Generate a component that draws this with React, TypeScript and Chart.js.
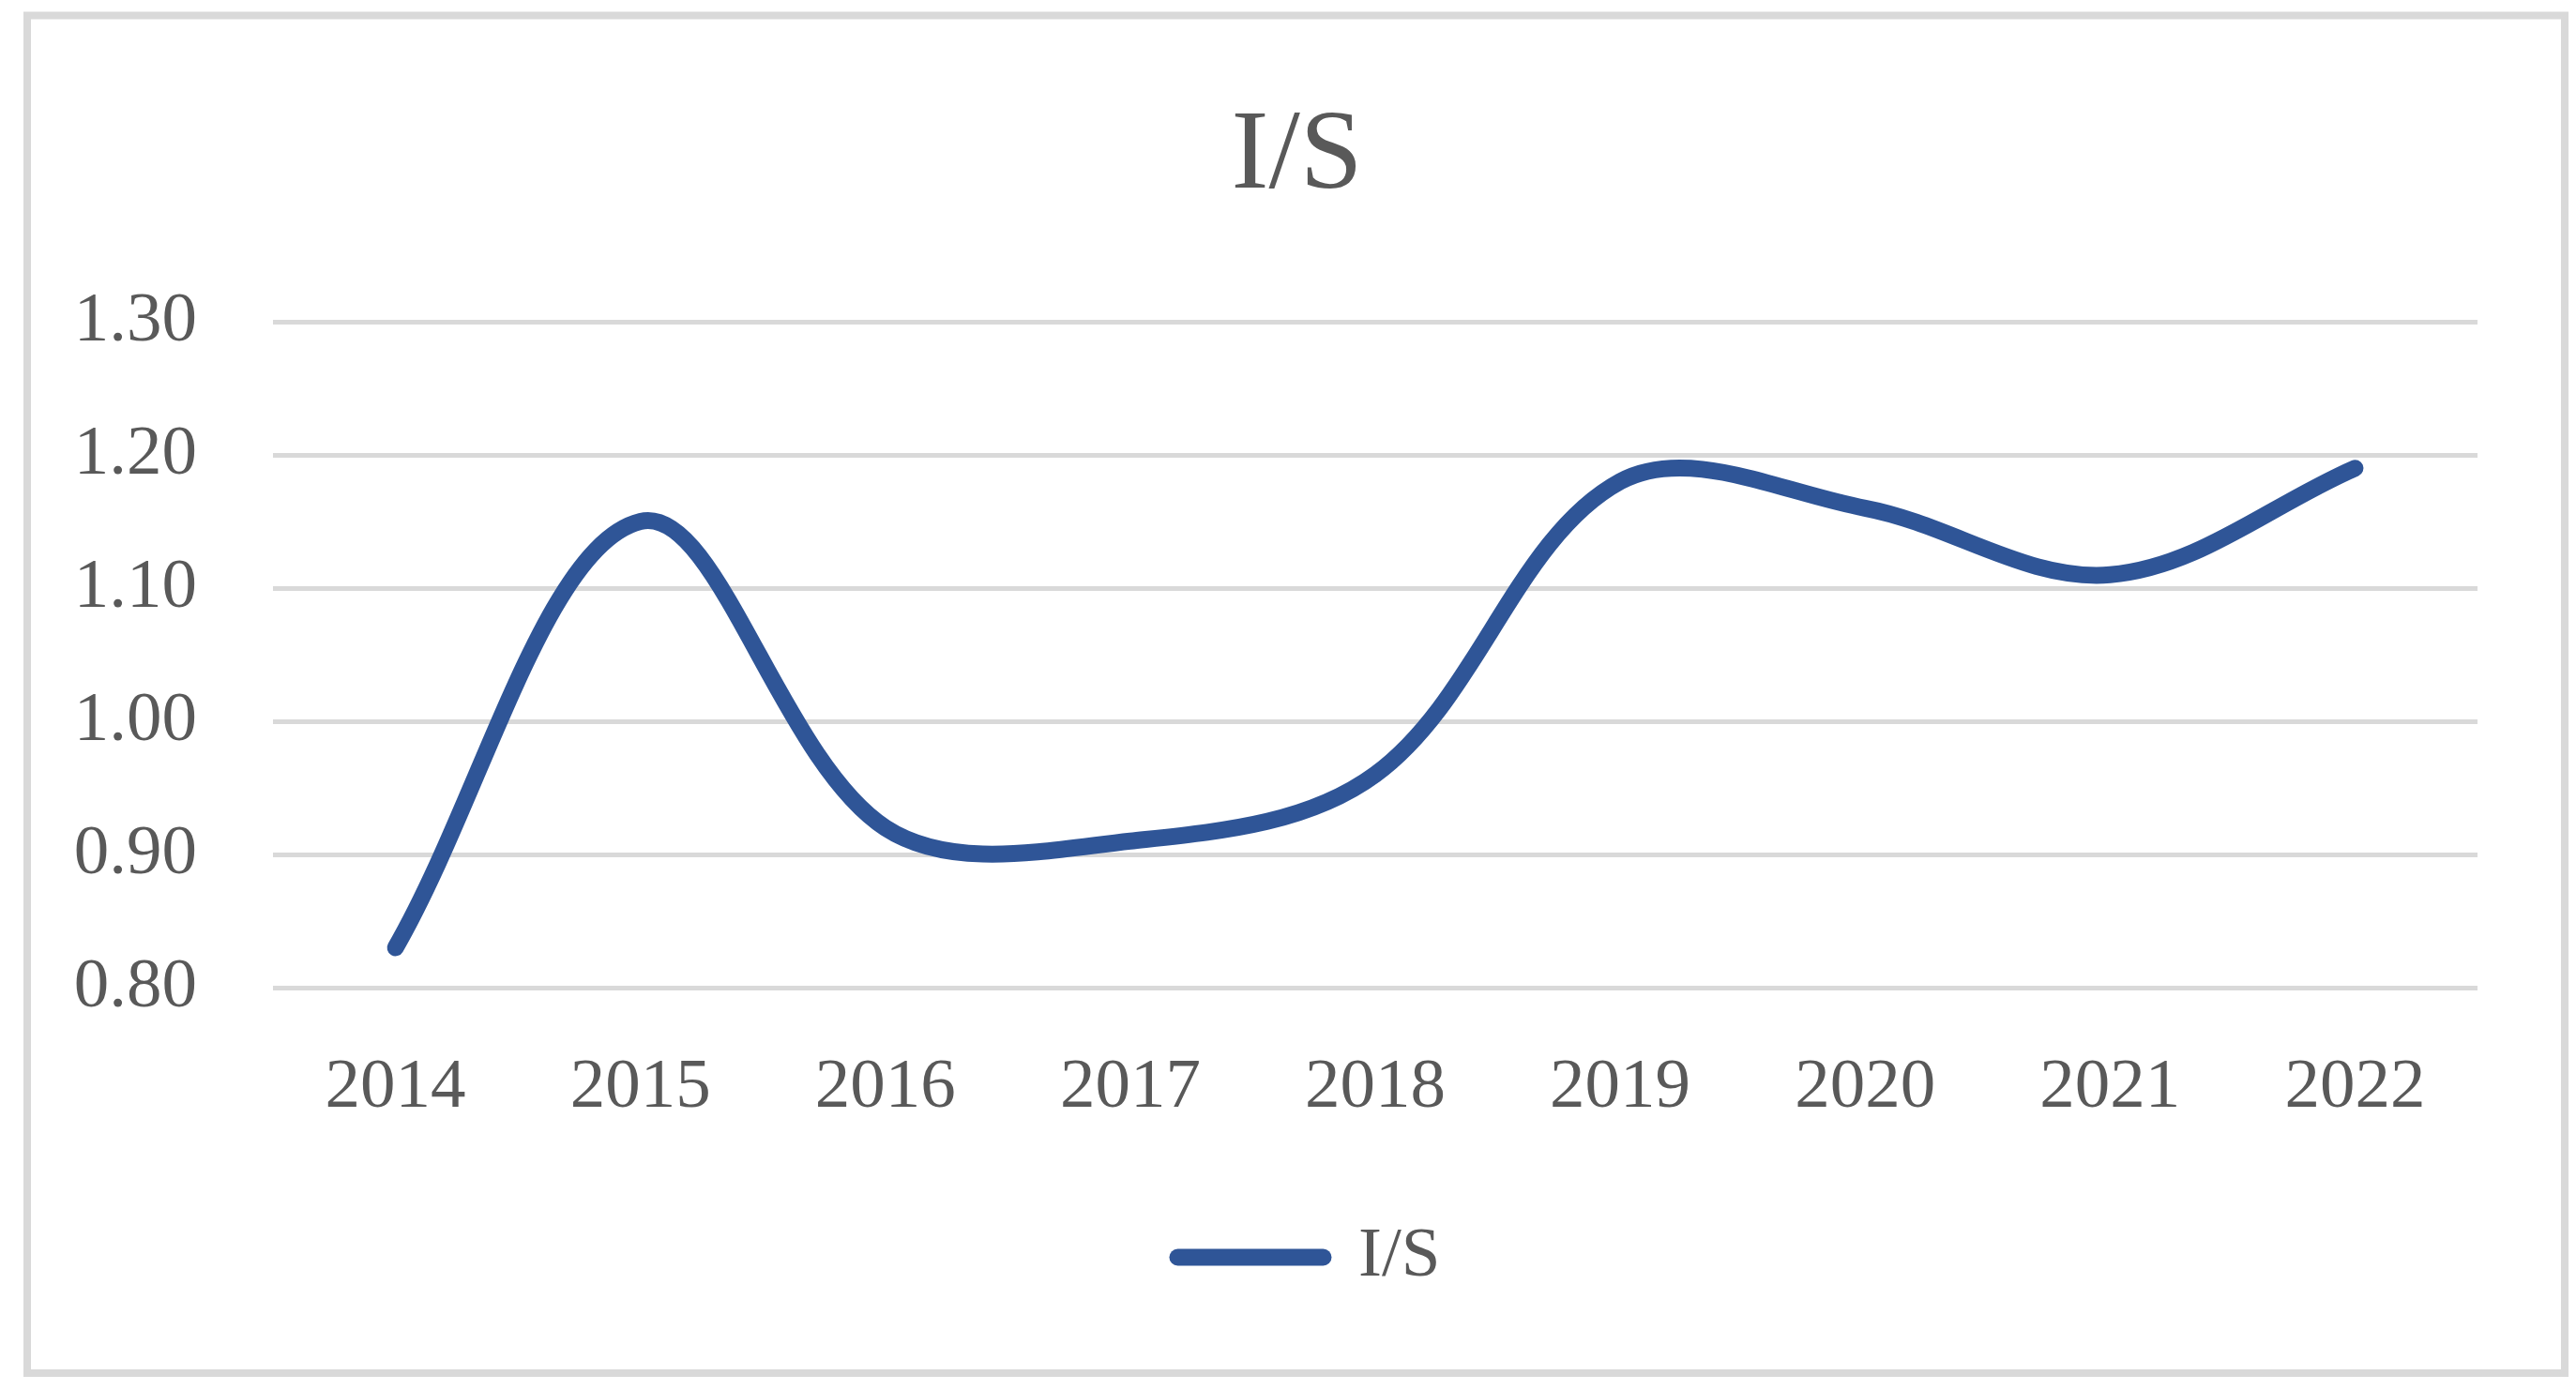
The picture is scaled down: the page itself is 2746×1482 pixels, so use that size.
import React, { useEffect, useRef } from "react";
import { Chart, registerables } from "chart.js";

Chart.register(...registerables);

// ---- data ----
const categories = ["2014", "2015", "2016", "2017", "2018", "2019", "2020", "2021", "2022"];
const isValues = [0.83, 1.15, 0.92, 0.91, 0.96, 1.18, 1.16, 1.11, 1.19];
const yTickValues = [0.8, 0.9, 1.0, 1.1, 1.2, 1.3];
const seriesName = "I/S";
const chartTitle = "I/S";

// ---- style ----
const W = 2746;
const H = 1482;
const FONT = "'Liberation Serif', 'Times New Roman', serif";
const TEXT = "#595959";
const LINE = "#2F5597";
const GRID = "#D9D9D9";
const LINE_W = 18;
const TITLE_DX = 32;
const LEGEND_DX = 45;

const framePlugin = {
  id: "frame",
  beforeDraw(chart: any) {
    const ctx = chart.ctx;
    ctx.save();
    ctx.fillStyle = "#ffffff";
    ctx.fillRect(0, 0, chart.width, chart.height);
    ctx.strokeStyle = GRID;
    ctx.lineWidth = 8;
    ctx.strokeRect(29, 16.5, 2705, 1447.5);
    ctx.restore();
  },
};

const shiftBox = (box: any, dx: number) => {
  if (!box) return;
  box.left += dx;
  box.right += dx;
};

const centerShiftPlugin = {
  id: "centerShift",
  afterLayout(chart: any) {
    shiftBox(chart.titleBlock, TITLE_DX);
    shiftBox(chart.legend, LEGEND_DX);
  },
};

export default function App() {
  const ref = useRef<HTMLCanvasElement | null>(null);

  useEffect(() => {
    if (!ref.current) return;
    const chart = new Chart(ref.current, {
      type: "line",
      data: {
        labels: categories,
        datasets: [
          {
            label: seriesName,
            data: isValues,
            borderColor: LINE,
            backgroundColor: LINE,
            borderWidth: LINE_W,
            borderCapStyle: "round",
            borderJoinStyle: "round",
            tension: 0.35,
            pointRadius: 0,
            pointHoverRadius: 0,
            fill: false,
            clip: false as any,
          },
        ],
      },
      options: {
        responsive: false,
        animation: false,
        devicePixelRatio: 1,
        layout: { padding: { left: 60, right: 105, top: 0, bottom: 94 } },
        plugins: {
          title: {
            display: true,
            text: chartTitle,
            color: TEXT,
            font: { family: FONT, size: 120, weight: "normal", lineHeight: 1.2 },
            padding: { top: 96, bottom: 103 },
          },
          legend: {
            display: true,
            position: "bottom",
            labels: {
              usePointStyle: true,
              pointStyle: "line",
              pointStyleWidth: 155,
              color: TEXT,
              padding: 10,
              font: { family: FONT, size: 75 },
              generateLabels: () => [
                {
                  text: seriesName,
                  fillStyle: LINE,
                  strokeStyle: LINE,
                  lineWidth: LINE_W,
                  lineCap: "round",
                  pointStyle: "line",
                  fontColor: TEXT,
                  hidden: false,
                  datasetIndex: 0,
                } as any,
              ],
            },
          },
          tooltip: { enabled: false },
        },
        scales: {
          x: {
            offset: true,
            grid: { display: false, drawTicks: false },
            border: { display: false },
            ticks: {
              color: TEXT,
              font: { family: FONT, size: 75 },
              padding: 62,
              maxRotation: 0,
            },
            afterFit: (s: any) => {
              s.height = 240;
            },
          },
          y: {
            min: 0.8,
            max: 1.3,
            grid: { color: GRID, lineWidth: 5, drawTicks: false },
            border: { display: false },
            ticks: {
              color: TEXT,
              font: { family: FONT, size: 75 },
              padding: 81,
              callback: (v: any) => Number(v).toFixed(2),
            },
            afterBuildTicks: (s: any) => {
              s.ticks = yTickValues.map((v) => ({ value: v }));
            },
            afterFit: (s: any) => {
              s.width = 231;
            },
          },
        },
      },
      plugins: [framePlugin, centerShiftPlugin],
    });
    return () => chart.destroy();
  }, []);

  return (
    <div style={{ position: "fixed", left: 0, top: 0, width: W, height: H, background: "#fff" }}>
      <canvas ref={ref} width={W} height={H} style={{ display: "block", width: W, height: H }} />
    </div>
  );
}
